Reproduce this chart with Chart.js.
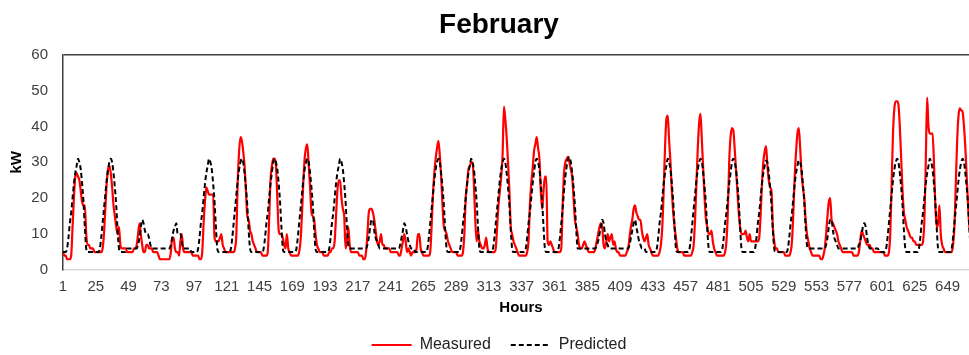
<!DOCTYPE html>
<html>
<head>
<meta charset="utf-8">
<script src="https://cdn.jsdelivr.net/npm/chart.js@4.4.1/dist/chart.umd.min.js"></script>
<style>
  html, body { margin: 0; padding: 0; background: #fff; overflow: hidden; }
  canvas { display: block; }
</style>
</head>
<body>
<canvas id="febChart" width="998" height="355"></canvas>
<script>
const xTicks = [1, 25, 49, 73, 97, 121, 145, 169, 193, 217, 241, 265, 289, 313, 337, 361, 385, 409, 433, 457, 481, 505, 529, 553, 577, 601, 625, 649];
const yTicks = [0, 10, 20, 30, 40, 50, 60];

// one row per day, 24 hourly values
const measured = [
  5,4,4,3,3,3,4,12,20,26,27,26,25,22,19,18,18,10,7,7,6,6,6,5,
  5,5,5,5,5,6,10,17,24,28,29,27,23,18,15,12,10,12,7,6,6,6,6,5,
  5,5,5,5,6,6,7,10,13,10,7,5,5,7,7,6,6,6,5,5,5,5,4,3,
  3,3,3,3,3,3,3,5,9,9,6,5,5,4,8,10,6,5,5,5,5,5,5,4,
  4,4,4,4,3,3,5,13,19,23,22,21,21,21,21,9,8,8,8,9,10,7,6,5,
  5,5,5,5,5,5,6,10,25,33,37,36,33,29,22,15,14,11,10,8,7,6,5,5,
  5,5,4,4,4,4,5,14,25,29,31,31,29,20,11,10,10,9,7,6,10,6,5,4,
  4,4,4,4,4,5,8,15,24,31,34,35,29,23,16,15,14,10,7,6,5,5,5,4,
  4,4,4,5,5,6,6,8,15,22,25,25,20,17,15,6,8,12,7,5,5,5,5,5,
  5,4,4,4,3,3,5,10,16,17,17,16,14,11,8,7,8,10,7,7,6,6,6,6,
  5,5,5,5,5,5,4,4,6,8,10,8,5,6,5,4,5,5,5,6,10,10,6,5,
  4,4,4,4,4,5,12,21,27,31,34,36,32,26,18,12,11,10,8,7,6,5,5,5,
  5,4,4,4,4,5,10,20,24,28,29,30,30,24,14,8,11,8,7,6,6,7,9,6,
  5,5,5,5,5,6,12,18,22,26,32,45.5,42,37,30,22,12,10,8,7,6,5,4,4,
  4,4,4,4,5,8,18,24,28,33,35,37,34,31,22,17,22,26,26,8,7,8,7,6,
  5,5,5,5,5,6,18,27,30,31,31.5,30,28,26,20,14,12,10,7,6,6,7,8,7,
  6,5,5,5,5,5,6,8,10,12,13,12,7,6,8,10,8,9,10,7,8,6,5,5,
  4,4,4,4,4,5,6,9,12,14,17,18,16,15,14,14,11,9,8,9,10,7,6,5,
  4,4,4,4,4,5,7,12,22,34,42,43,36,30,22,16,12,9,6,5,5,5,5,4,
  4,4,4,4,4,5,7,14,24,34,41,43.5,36,28,20,14,12,10,10,11,8,6,5,4,
  4,4,4,4,4,5,8,16,30,37,39.5,39,34,28,22,16,12,10,10,10,11,9,8,10,
  8,8,8,8,8,8,9,15,24,30,33,34.5,29,25,23,22,12,8,6,6,5,5,5,5,
  5,4,4,4,4,5,8,16,26,33,38,39.5,34,27,23,20,14,10,8,6,5,4,4,4,
  4,4,4,3,3,4,6,10,15,19,20,14,13,12,11,10,8,7,6,5,5,5,5,5,
  5,5,5,4,4,4,4,5,8,11,10,9,8,7,7,7,6,6,5,5,5,5,5,5,
  5,5,4,4,4,5,10,24,38,45,47,47,46,40,31,22,16,14,12,11,10,9,9,8,
  8,7,7,7,7,7,8,14,30,48,40,38,38,38,30,18,12,13,18,10,7,6,5,5,
  5,5,5,5,7,12,24,36,43,45,44.5,44,40,34,26,18,12,9,7,6,5,5,5,5
];

const predicted = [
  5,5,5,6,9,13,16,20,24,27,29,31,30,28,24,19,12,6,5,5,5,5,5,5,
  5,5,5,6,9,13,17,21,25,28,30,31,30,27,23,18,11,6,5,5,5,5,5,6,
  6,6,6,6,6,6,6,7,9,12,14,13,11,10,10,9,7,6,6,6,6,6,6,6,
  6,6,6,6,6,6,6,7,9,11,12,13,10,10,10,8,6,6,6,6,6,6,5,5,
  5,5,5,6,9,13,16,20,24,27,29,31,30,28,24,19,12,6,5,5,5,5,5,5,
  5,5,5,6,9,13,17,21,25,28,30,31,30,27,23,18,11,6,5,5,5,5,5,5,
  5,5,5,6,9,13,16,20,24,27,30,31,30,28,24,19,12,6,5,5,5,5,5,5,
  5,5,5,6,9,13,17,21,25,28,30,31,30,27,23,18,11,6,5,5,5,5,5,5,
  5,5,5,6,9,13,16,20,24,27,29,31,30,28,24,19,12,7,6,6,6,6,6,6,
  6,6,6,6,6,6,6,7,9,12,14,14,11,9,8,7,6,6,6,6,6,6,6,6,
  6,6,6,6,6,6,6,7,9,11,13,12,10,8,7,6,6,6,5,5,5,5,5,5,
  5,5,5,6,9,13,17,21,25,28,30,31,30,27,23,18,11,6,5,5,5,5,5,5,
  5,5,5,6,9,13,16,20,24,27,29,31,30,28,24,19,12,6,5,5,5,5,5,5,
  5,5,5,6,9,13,17,21,25,28,30,31,30,27,23,18,11,6,5,5,5,5,5,5,
  5,5,5,6,9,13,16,20,24,27,30,31,30,28,24,19,12,6,5,5,5,5,5,5,
  5,5,5,6,9,13,17,22,26,29,31,31.5,30,27,23,18,11,6,6,6,6,6,6,6,
  6,6,6,6,6,6,6,7,8,10,12,14,13,10,8,7,6,6,6,6,6,6,6,6,
  6,6,6,6,6,6,6,7,9,11,13,14,12,10,8,7,6,6,6,5,5,5,5,5,
  5,5,5,6,9,13,16,20,24,27,29,31,30,28,24,19,12,6,5,5,5,5,5,5,
  5,5,5,6,9,13,17,21,25,28,30,31,30,27,23,18,11,6,5,5,5,5,5,5,
  5,5,5,6,9,13,16,20,24,27,30,31,30,28,24,19,12,6,5,5,5,5,5,5,
  5,5,5,6,9,13,16,20,24,27,29,30.5,30,27,23,18,11,6,5,5,5,5,5,5,
  5,5,5,6,9,13,16,20,24,27,29,30.5,30,28,24,19,12,7,6,6,6,6,6,6,
  6,6,6,6,6,6,6,7,9,12,14,14,11,9,8,7,6,6,6,6,6,6,6,6,
  6,6,6,6,6,6,6,7,8,10,12,13,12,9,7,6,6,6,6,6,6,6,5,5,
  5,5,5,6,9,13,17,21,25,28,30,31,30,27,23,18,11,6,5,5,5,5,5,5,
  5,5,5,6,9,13,16,20,24,27,29,31,30,28,24,19,12,6,5,5,5,5,5,5,
  5,5,5,6,9,13,17,21,25,28,30,31,30,27,23,18,11,6,5,5,5,5,5,5
];

const hours = measured.map((v, i) => i + 1);

Chart.defaults.font.family = "'Liberation Sans', Arial, sans-serif";
Chart.defaults.color = '#404040';

const febChart = document.getElementById('febChart');

new Chart(febChart, {
  type: 'line',
  data: {
    datasets: [{
      label: 'Measured',
      data: hours.map((h, i) => ({x: h, y: measured[i]})),
      borderColor: '#ff0000',
      backgroundColor: '#ff0000',
      borderWidth: 2.2,
      pointRadius: 0,
      cubicInterpolationMode: 'monotone',
      order: 1
    },
    {
      label: 'Predicted',
      data: hours.map((h, i) => ({x: h, y: predicted[i]})),
      borderColor: '#000000',
      backgroundColor: '#000000',
      borderDash: [5, 3],
      borderWidth: 2,
      pointRadius: 0,
      cubicInterpolationMode: 'monotone',
      order: 0
    }]
  },
  options: {
    responsive: false,
    animation: false,
    layout: {
      padding: {top: 4, bottom: -8, left: 0, right: 0}
    },
    scales: {
      x: {
        type: 'linear',
        min: 1,
        max: 672,
        afterBuildTicks: s => { s.ticks = xTicks.map(v => ({value: v})); },
        afterFit: s => { s.height = 47; },
        ticks: {autoSkip: false, maxRotation: 0, padding: 8, color: '#404040', font: {size: 15}},
        grid: {display: false, drawTicks: false},
        border: {color: '#d9d9d9', width: 1.5},
        title: {
          display: true,
          text: 'Hours',
          color: '#000',
          font: {size: 15, weight: 'bold'},
          padding: {top: 4, bottom: 0}
        }
      },
      y: {
        min: 0,
        max: 60,
        afterBuildTicks: s => { s.ticks = yTicks.map(v => ({value: v})); },
        afterFit: s => { s.width = 63; },
        ticks: {padding: 15, color: '#404040', font: {size: 15}},
        grid: {
          drawTicks: false,
          lineWidth: 1.5,
          color: c => (c.tick && c.tick.value === 60) ? '#404040' : 'rgba(0,0,0,0)'
        },
        border: {color: '#404040', width: 1.5},
        title: {
          display: true,
          text: 'kW',
          color: '#000',
          font: {size: 15, weight: 'bold'},
          padding: {top: 8, bottom: 0}
        }
      },
      pad: {
        axis: 'y',
        type: 'linear',
        position: 'right',
        display: true,
        afterFit: s => { s.width = 19; },
        ticks: {display: false},
        grid: {display: false, drawTicks: false},
        border: {display: false}
      }
    },
    plugins: {
      title: {
        display: true,
        text: 'February',
        color: '#000',
        font: {size: 28, weight: 'bold'},
        padding: {top: 4, bottom: 13}
      },
      legend: {
        position: 'bottom',
        labels: {
          usePointStyle: true,
          pointStyle: 'line',
          pointStyleWidth: 40,
          padding: 20,
          color: '#222',
          font: {size: 16},
          sort: (a, b) => a.datasetIndex - b.datasetIndex,
          generateLabels: chart => Chart.defaults.plugins.legend.labels.generateLabels(chart).map(item => {
            const ds = chart.data.datasets[item.datasetIndex];
            item.lineDash = ds.borderDash || [];
            item.lineWidth = 2;
            item.strokeStyle = ds.borderColor;
            return item;
          })
        }
      },
      tooltip: {enabled: false}
    }
  }
});
</script>
</body>
</html>
